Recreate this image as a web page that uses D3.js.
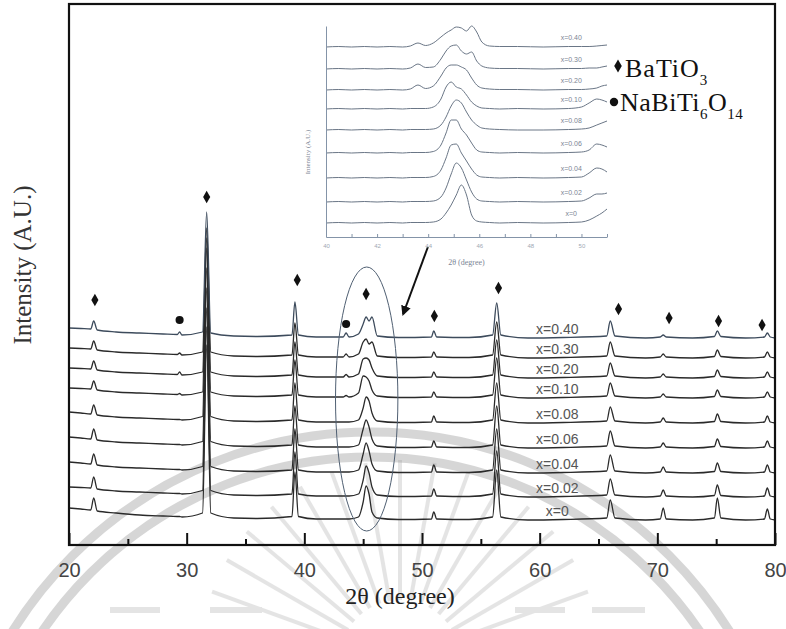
<!DOCTYPE html>
<html><head><meta charset="utf-8">
<script src="https://cdn.jsdelivr.net/npm/d3@7"></script>
<style>
html,body{margin:0;padding:0;background:#fff;}
svg{display:block;}
</style></head>
<body>
<svg id="c" width="786" height="629"></svg>
<script>
// ---------------- DATA ----------------
const seriesLabels = ["x=0","x=0.02","x=0.04","x=0.06","x=0.08","x=0.10","x=0.20","x=0.30","x=0.40"];
// vertical stacking offsets (a.u.) of each pattern in the main plot
const mainOffsets = [25, 48, 72, 97, 122, 147, 167, 187, 207];
// 2theta sample positions used for the main patterns
const thetaMain = [20,21,21.85,22.1,22.4,24,26,28,29.2,29.4,29.6,31.35,31.7,32.05,34,36,38.95,39.2,39.5,41,43.3,43.55,43.8,44.6,45.0,45.25,45.5,45.75,46.2,48,50.8,51.0,51.25,54,56.0,56.35,56.7,59,62,65.7,66.0,66.4,69,70.25,70.5,70.75,73,74.85,75.1,75.4,77.5,79.1,79.35,79.6,80];
// intensity (a.u., above each pattern's offset) read at thetaMain
const int_x000 = [12,11,10,22,9,7,5,4,3.5,3.5,3,7,175,7,2,1.5,3.5,48,3.5,1,1,1,1,3,18,34,26,8,2,0.5,1,8,1,0.5,3,50,3,0,0.5,2,20,2,0,1,12,1,0,2,22,2,0,1,11,1,0];
const int_x002 = [10,9.5,9,20,8,6,5,4,3.5,3.5,3,6.5,170,6.5,2,1.5,3,45,3,1,1,1,1,3,17,31,24,10,2,0.5,1,8,1,0.5,3,46,3,0,0.5,2,18,2,0,1,7,1,0,1.5,12,1.5,0,1,9,1,0];
const int_x004 = [11,10,9,19,8,6,5,4,3.5,3.5,3,6.5,165,6.5,2,1.5,3,44,3,1,1,1,1,3,19,30,22,9,2,0.5,1,8,1,0.5,3,44,3,0,0.5,2,18,2,0,1,6,1,0,1.5,10,1.5,0,1,8,1,0];
const int_x006 = [11,10,9,19,8,6,5,4,3.5,3.5,3,6.5,160,6.5,2,1.5,3,42,3,1,1,1,1,3,19,28,21,9,2,0.5,1,7,1,0.5,3,42,3,0,0.5,2,17,2,0,1,5,1,0,1.5,9,1.5,0,1,7,1,0];
const int_x008 = [11,10,9,18,8,6,5,4,3.5,3.5,3,6.5,155,6.5,2,1.5,3,40,3,1,1,1,1,3,15,26,22,10,2,0.5,1,7,1,0.5,3,40,3,0,0.5,2,16,2,0,1,5,1,0,1.5,9,1.5,0,1,7,1,0];
const int_x010 = [10,9.5,9,17,8,6,5,4,3.5,4.5,3,6,150,6,2,1.5,3,38,3,1,1,2.5,1,5,22,21,17,8,2,0.5,1,6,1,0.5,3,40,3,0,0.5,2,15,2,0,1,4,1,0,1.5,8,1.5,0,1,6,1,0];
const int_x020 = [10,9.5,9,17,8,6,5,4,3.5,6,3,6,140,6,2,1.5,3,36,3,1,1,3.5,1,4,19,20,18,10,2,0.5,1,6,1,0.5,3,38,3,0,0.5,2,15,2,0,1,4,1,0,1.5,8,1.5,0,1,6,1,0];
const int_x030 = [10,9.5,9,17,8,6,5,4,3.5,5,3,6,130,6,2,1.5,3,35,3,1,1,4,1,4,16,19,14,16,2,0.5,1,6,1,0.5,3,36,3,0,0.5,2,16,2,0,1,4,1,0,1.5,8,1.5,0,1,6,1,0];
const int_x040 = [10,9.5,9,17,8,6,5,4,3.5,6,3,6,126,5,2,1.5,3,36,3,1,1,5,1,4,14,21,17,21,2,0.5,1,7,1,0.5,3,35,3,0,0.5,2,17,2,0,1,3,1,0,1.5,7,1.5,0,1,5,1,0];
const mainIntensity = [int_x000,int_x002,int_x004,int_x006,int_x008,int_x010,int_x020,int_x030,int_x040];

// inset (zoom of 40-51 degrees)
const insetOffsets = [14, 35, 59, 84, 107, 128, 147, 168, 190];
const thetaInset = [40,40.5,41,41.5,42,42.5,43,43.3,43.6,43.9,44.2,44.5,44.7,44.9,45.1,45.3,45.5,45.7,45.9,46.1,46.4,46.8,47.5,48.5,49.5,50.0,50.3,50.6,50.8,51.0];
const ins_x000 = [0,0.5,0,0.5,0,0.5,0,0.5,0.5,0.5,1,4,10,18,28,38,28,8,2,1,0.5,0,0.5,0,0.5,1,3,7,10,14];
const ins_x002 = [0,0.5,0,0.5,0,0.5,0,0.5,0.5,0.5,1,5,14,28,39,34,22,10,3,1,0.5,0,0.5,0,0.5,1,4,8,8,9];
const ins_x004 = [0,0.5,0,0.5,0,0.5,0,0.5,0.5,0.5,1.5,8,20,33,34,25,17,9,3,1,0.5,0,0.5,0,0.5,1,5,10,9,6];
const ins_x006 = [0,0.5,0,0.5,0,0.5,0,0.5,0.5,0.5,1.5,8,20,33,33,24,18,10,3,1,0.5,0,0.5,0,0.5,1,3,9,8,6];
const ins_x008 = [0,0.5,0,0.5,0,0.5,0,0.5,0.5,0.5,1,5,13,24,30,27,18,10,5,2,1,0.5,0,0,0.5,1,2,5,7,9];
const ins_x010 = [0,0.5,0,0.5,0,0.5,0,0.5,0.5,0.5,2,10,22,27,22,20,14,7,3,1,0.5,0,0.5,0,0.5,2,6,10,9,7];
const ins_x020 = [0,0.5,0,0.5,0,0.5,0,1,5,1.5,4,14,22,25,25,23,20,12,5,2,1,0.5,0.5,0,0.5,0.5,1,2,4,5];
const ins_x030 = [0,0.5,0,0.5,0,0.5,0,1,5,1.5,2,10,18,23,24,18,15,17,8,3,1,0.5,0.5,0,0.5,0.5,1,1,2,3];
const ins_x040 = [0,0.5,0,0.5,0,0.5,0,1,4,1.5,4,10,14,17,20,19,16,21,15,5,1,0.5,0.5,0,0.5,0.5,0.5,1,1.5,2];
const insetIntensity = [ins_x000,ins_x002,ins_x004,ins_x006,ins_x008,ins_x010,ins_x020,ins_x030,ins_x040];

// axes
const xTicksMajor = [20,30,40,50,60,70,80];
const xTicksMinor = [25,35,45,55,65,75];
const insetTicks = [40,41,42,43,44,45,46,47,48,49,50,51];
const insetTickLabels = [40,42,44,46,48,50];

// phase markers above peaks
const markerTheta  = [22.2, 29.4, 31.7, 39.4, 43.55, 45.25, 51.05, 56.5, 66.7, 71.0, 75.2, 78.9];
const markerHeight = [245, 225, 348, 265, 221, 251, 229, 257, 236, 227, 224, 220];
const markerPhase  = ["BaTiO3","NaBiTi6O14","BaTiO3","BaTiO3","NaBiTi6O14","BaTiO3","BaTiO3","BaTiO3","BaTiO3","BaTiO3","BaTiO3","BaTiO3"];

// ---------------- DRAW ----------------
const svg = d3.select("#c");
const SERIF = "'Liberation Serif','Times New Roman',serif";
const SANS = "'Liberation Sans',Arial,sans-serif";

const x = d3.scaleLinear([20, 80], [69, 775]);
const y = d3.scaleLinear([0, 541], [545, 4]);
const xi = d3.scaleLinear([40, 51], [326, 607]);
const yi = d3.scaleLinear([0, 211], [237, 26]);

const defs = svg.append("defs");
defs.append("marker").attr("id","ah").attr("viewBox","0 0 10 10").attr("refX",8).attr("refY",5)
  .attr("markerWidth",5).attr("markerHeight",5).attr("orient","auto")
  .append("path").attr("d","M0,0 L10,5 L0,10 z").attr("fill","#111");

// ---------------- WATERMARK (faint, behind) ----------------
const wm = svg.append("g").attr("opacity", 0.3).attr("pointer-events","none");
[397, 422].forEach(r => wm.append("circle").attr("cx", 371).attr("cy", 854).attr("r", r)
  .attr("fill","none").attr("stroke","#7a7a7a").attr("stroke-width", 9));
const wr = svg.append("g").attr("opacity", 0.22).attr("pointer-events","none");
d3.range(-160, -15, 10).forEach(a => {
  const rad = a * Math.PI / 180;
  wr.append("line")
    .attr("x1", 400 + 60 * Math.cos(rad)).attr("y1", 660 + 60 * Math.sin(rad))
    .attr("x2", 400 + 200 * Math.cos(rad)).attr("y2", 660 + 200 * Math.sin(rad))
    .attr("stroke","#8a8a8a").attr("stroke-width", 4);
});
[[110,160],[210,262],[515,565],[592,645]].forEach(s => wr.append("line")
  .attr("x1", s[0]).attr("x2", s[1]).attr("y1", 610).attr("y2", 610)
  .attr("stroke","#8a8a8a").attr("stroke-width", 6));

// main patterns
const lineMain = d3.line().x(d => x(d[0])).y(d => y(d[1])).curve(d3.curveMonotoneX);
seriesLabels.forEach((lab, i) => {
  const pts = thetaMain.map((t, j) => [t, mainOffsets[i] + mainIntensity[i][j]]);
  svg.append("path").attr("d", lineMain(pts)).attr("fill","none")
    .attr("stroke", i === 8 ? "#3d4b5c" : "#2a2a2a").attr("stroke-width",1.3)
    .attr("stroke-linejoin","round");
  svg.append("text").attr("x", x(61.5)).attr("y", y(mainOffsets[i] + 9))
    .attr("text-anchor","middle").attr("dominant-baseline","central")
    .attr("font-family", SANS).attr("font-size", 14).attr("fill","#555").text(lab);
});

// phase markers
markerTheta.forEach((t, k) => {
  const g = svg.append("path").attr("transform", `translate(${x(t)},${y(markerHeight[k])})`).attr("fill","#111");
  if (markerPhase[k] === "BaTiO3") g.attr("d", d3.symbol(d3.symbolDiamond, 44)());
  else g.attr("d", d3.symbol(d3.symbolCircle, 52)());
});

// ellipse around 45 deg region and arrow from inset
svg.append("ellipse").attr("cx", x(45.3)).attr("cy", y(146)).attr("rx", x(45.3) - x(42.65)).attr("ry", y(146) - y(278))
  .attr("fill","none").attr("stroke","#4f5f72").attr("stroke-width",1);
svg.append("line").attr("x1", x(50.5)).attr("y1", y(298)).attr("x2", x(48.4)).attr("y2", y(231))
  .attr("stroke","#111").attr("stroke-width",2).attr("marker-end","url(#ah)");

// main axis ticks
const gx = svg.append("g").attr("transform","translate(0,545)")
  .call(d3.axisBottom(x).tickValues(xTicksMajor).tickSize(-12).tickSizeOuter(0).tickPadding(18).tickFormat(d3.format("d")));
gx.select(".domain").remove();
gx.selectAll(".tick line").attr("stroke","#111").attr("stroke-width",2);
gx.selectAll(".tick text").attr("font-family", SANS).attr("font-size", 20).attr("fill","#444");
const gxm = svg.append("g").attr("transform","translate(0,545)")
  .call(d3.axisBottom(x).tickValues(xTicksMinor).tickSize(-6).tickSizeOuter(0).tickFormat(""));
gxm.select(".domain").remove();
gxm.selectAll(".tick line").attr("stroke","#111").attr("stroke-width",2);

// frame
svg.append("rect").attr("x", x(20)).attr("y", y(541)).attr("width", x(80) - x(20)).attr("height", y(0) - y(541))
  .attr("fill","none").attr("stroke","#111").attr("stroke-width",2.2);

// axis titles
svg.append("text").attr("x", 400).attr("y", 604).attr("text-anchor","middle")
  .attr("font-family", SERIF).attr("font-size", 24).attr("fill","#222").text("2θ (degree)");
svg.append("text").attr("transform","translate(31,265) rotate(-90)").attr("text-anchor","middle")
  .attr("font-family", SERIF).attr("font-size", 25).attr("fill","#333").text("Intensity (A.U.)");

// ---------------- INSET ----------------
const INS = "#8494a8";
const lineIns = d3.line().x(d => xi(d[0])).y(d => yi(d[1])).curve(d3.curveMonotoneX);
seriesLabels.forEach((lab, i) => {
  const pts = thetaInset.map((t, j) => [t, insetOffsets[i] + insetIntensity[i][j]]);
  svg.append("path").attr("d", lineIns(pts)).attr("fill","none").attr("stroke","#6a7686").attr("stroke-width",1);
  svg.append("text").attr("x", xi(49.6)).attr("y", yi(insetOffsets[i] + 10))
    .attr("text-anchor","middle").attr("dominant-baseline","central")
    .attr("font-family", SANS).attr("font-size", 7).attr("fill","#7c8594").text(lab);
});
const gi = svg.append("g").attr("transform", `translate(0,${yi(0)})`)
  .call(d3.axisBottom(xi).tickValues(insetTicks).tickSize(-3).tickSizeOuter(0).tickPadding(7)
    .tickFormat(d => insetTickLabels.includes(d) ? d : ""));
gi.select(".domain").attr("stroke", INS);
gi.selectAll(".tick line").attr("stroke", INS);
gi.selectAll(".tick text").attr("font-family", SANS).attr("font-size", 6).attr("fill","#a0a8b4");
const giy = svg.append("g").attr("transform", `translate(${xi(40)},0)`)
  .call(d3.axisLeft(yi).tickValues([]).tickSizeOuter(0));
giy.select(".domain").attr("stroke", INS);
svg.append("text").attr("x", xi(45.5)).attr("y", 265).attr("text-anchor","middle")
  .attr("font-family", SERIF).attr("font-size", 8).attr("fill","#7c8594").text("2θ (degree)");
svg.append("text").attr("transform","translate(310,152) rotate(-90)").attr("text-anchor","middle")
  .attr("font-family", SERIF).attr("font-size", 7).attr("fill","#7c8594").text("Intensity (A.U.)");

// ---------------- LEGEND ----------------
const leg = svg.append("g").attr("fill","#111").attr("font-family", SERIF);
leg.append("path").attr("d", d3.symbol(d3.symbolDiamond, 50)()).attr("transform","translate(618,66)");
const t1 = leg.append("text").attr("x", 625).attr("y", 77).attr("font-size", 26).attr("letter-spacing", 1);
t1.append("tspan").text("BaTiO");
t1.append("tspan").attr("font-size", 15).attr("dy", 8).text("3");
leg.append("circle").attr("cx", 614).attr("cy", 102).attr("r", 4.2);
const t2 = leg.append("text").attr("x", 620).attr("y", 111).attr("font-size", 26).attr("letter-spacing", 0.5);
t2.append("tspan").text("NaBiTi");
t2.append("tspan").attr("font-size", 15).attr("dy", 8).text("6");
t2.append("tspan").attr("dy", -8).text("O");
t2.append("tspan").attr("font-size", 15).attr("dy", 8).text("14");
</script>
</body></html>
